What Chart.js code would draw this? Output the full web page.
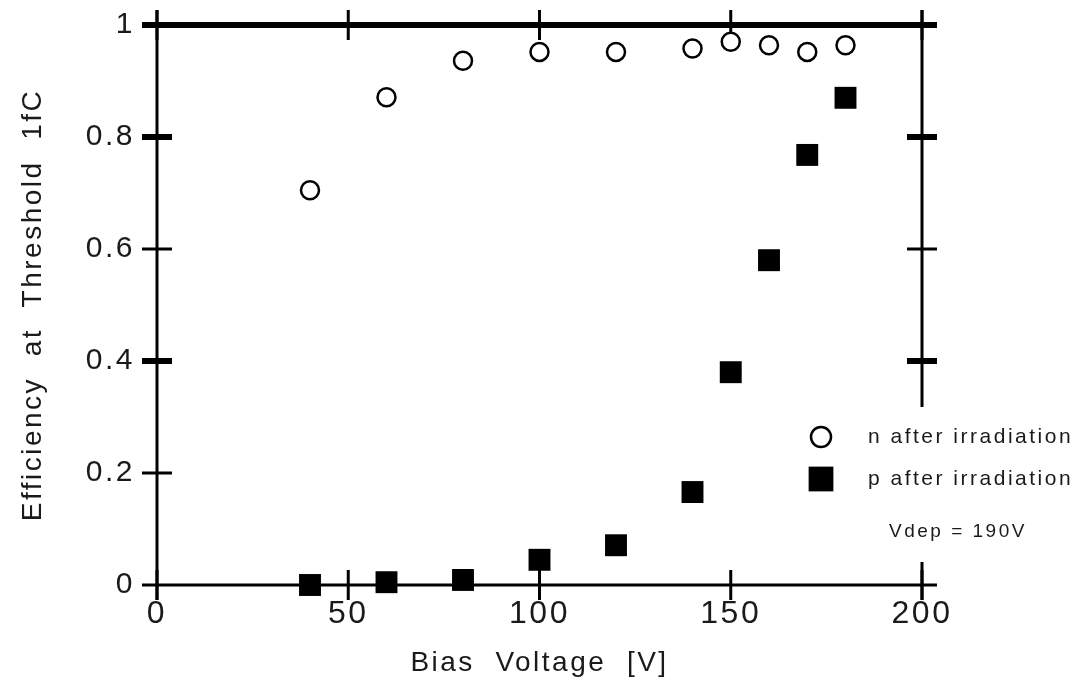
<!DOCTYPE html>
<html>
<head>
<meta charset="utf-8">
<script src="https://cdn.jsdelivr.net/npm/chart.js@4.4.0/dist/chart.umd.min.js"></script>
<style>
  html, body { margin: 0; padding: 0; background: #fff; }
  #wrap { width: 1081px; height: 681px; }
</style>
</head>
<body>
<div id="wrap"><canvas id="effChart" width="1081" height="681"></canvas></div>
<script>
// Data
const biasVoltage = [40, 60, 80, 100, 120, 140, 150, 160, 170, 180];
const nAfterIrr = [0.705, 0.871, 0.936, 0.952, 0.952, 0.958, 0.970, 0.964, 0.952, 0.964];
const pAfterIrr = [0.0, 0.005, 0.009, 0.045, 0.071, 0.166, 0.380, 0.58, 0.768, 0.870];
const xTickValues = [0, 50, 100, 150, 200];
const yTickValues = [0, 0.2, 0.4, 0.6, 0.8, 1];
const seriesLabels = ['n after irradiation', 'p after irradiation'];
const noteText = 'Vdep = 190V';

// ticks drawn heavier in the original
const heavyYTicks = [0.4, 0.8, 1];

const FONT = '"Liberation Sans", Arial, sans-serif';
const textColor = '#1a1a1a';

function toPoints(ys) {
    return biasVoltage.map((v, i) => ({ x: v, y: ys[i] }));
}

// the old plot font is widely spaced
const spacingPlugin = {
    id: 'spacing',
    beforeDraw(chart) {
        chart.ctx.letterSpacing = '2.5px';
    }
};

// Box, axis lines and crossing ticks
const framePlugin = {
    id: 'frame',
    beforeDatasetsDraw(chart) {
        const ctx = chart.ctx;
        const xs = chart.scales.x, ys = chart.scales.y;
        const left = xs.getPixelForValue(0), right = xs.getPixelForValue(200);
        const top = ys.getPixelForValue(1), bottom = ys.getPixelForValue(0);
        const t = 15;
        const line = (x1, y1, x2, y2, w) => {
            ctx.beginPath();
            ctx.lineWidth = w;
            ctx.moveTo(x1, y1);
            ctx.lineTo(x2, y2);
            ctx.stroke();
        };
        ctx.save();
        ctx.strokeStyle = '#000';
        ctx.lineCap = 'butt';
        line(left, top - t, left, bottom + t, 3);
        line(right, top - t, right, bottom + t, 3);
        line(left - t, bottom, right + t, bottom, 3);
        xTickValues.forEach(v => {
            const px = xs.getPixelForValue(v);
            line(px, top - t, px, top + t, 3);
            line(px, bottom - t, px, bottom + t, 3);
        });
        yTickValues.forEach(v => {
            const py = ys.getPixelForValue(v);
            const w = heavyYTicks.includes(v) ? 6 : 3;
            if (v === 1) {
                line(left - t, py, right + t, py, w);
            } else if (v !== 0) {
                line(left - t, py, left + t, py, w);
                line(right - t, py, right + t, py, w);
            }
        });
        ctx.restore();
    }
};

// Legend box on the right, overlapping the right axis
const legendPlugin = {
    id: 'sideLegend',
    afterDatasetsDraw(chart) {
        const ctx = chart.ctx;
        ctx.save();
        ctx.fillStyle = '#fff';
        ctx.fillRect(800, 407, 281, 155);
        const rows = [437, 479];
        chart.data.datasets.forEach((ds, i) => {
            ctx.fillStyle = ds.backgroundColor;
            ctx.strokeStyle = ds.borderColor;
            Chart.helpers.drawPoint(ctx, {
                pointStyle: ds.pointStyle,
                radius: ds.legendRadius,
                borderWidth: ds.borderWidth,
                rotation: 0
            }, 821, rows[i]);
            ctx.fillStyle = textColor;
            ctx.font = '21px ' + FONT;
            ctx.textBaseline = 'middle';
            ctx.textAlign = 'left';
            ctx.fillText(ds.label, 868, rows[i]);
        });
        ctx.font = '19px ' + FONT;
        ctx.fillText(noteText, 889, 532);
        ctx.restore();
    }
};

const ctx = document.getElementById('effChart').getContext('2d');

new Chart(ctx, {
    type: 'scatter',
    data: {
        datasets: [{
            label: seriesLabels[0],
            data: toPoints(nAfterIrr),
            pointStyle: 'circle',
            radius: 9,
            legendRadius: 10,
            borderWidth: 2.5,
            borderColor: '#000',
            backgroundColor: '#fff',
            clip: false
        }, {
            label: seriesLabels[1],
            data: toPoints(pAfterIrr),
            pointStyle: 'rect',
            radius: 15.5,
            legendRadius: 17.5,
            borderWidth: 0,
            borderColor: '#000',
            backgroundColor: '#000',
            clip: false
        }]
    },
    options: {
        responsive: false,
        animation: false,
        devicePixelRatio: 1,
        layout: { padding: { top: 25, right: 159, left: 0, bottom: 0 } },
        plugins: {
            legend: { display: false },
            tooltip: { enabled: false }
        },
        scales: {
            x: {
                type: 'linear',
                min: 0,
                max: 200,
                afterBuildTicks: s => { s.ticks = xTickValues.map(v => ({ value: v })); },
                afterFit: s => { s.height = 96; s.paddingLeft = 0; s.paddingRight = 0; },
                grid: { display: false, drawTicks: false },
                border: { display: false },
                ticks: { color: textColor, padding: 10, font: { family: FONT, size: 32 } },
                title: {
                    display: true,
                    text: 'Bias  Voltage  [V]',
                    color: textColor,
                    font: { family: FONT, size: 28 },
                    padding: { top: 0, bottom: 1 }
                }
            },
            y: {
                type: 'linear',
                min: 0,
                max: 1,
                afterBuildTicks: s => { s.ticks = yTickValues.map(v => ({ value: v })); },
                afterFit: s => { s.width = 157; s.paddingTop = 0; s.paddingBottom = 0; },
                grid: { display: false, drawTicks: false },
                border: { display: false },
                ticks: {
                    color: textColor,
                    padding: 22,
                    font: { family: FONT, size: 30 },
                    callback: v => String(+v.toFixed(1))
                },
                title: {
                    display: true,
                    text: 'Efficiency  at  Threshold  1fC',
                    color: textColor,
                    font: { family: FONT, size: 28 },
                    padding: { top: 16, bottom: 0 }
                }
            }
        }
    },
    plugins: [spacingPlugin, framePlugin, legendPlugin]
});
</script>
</body>
</html>
